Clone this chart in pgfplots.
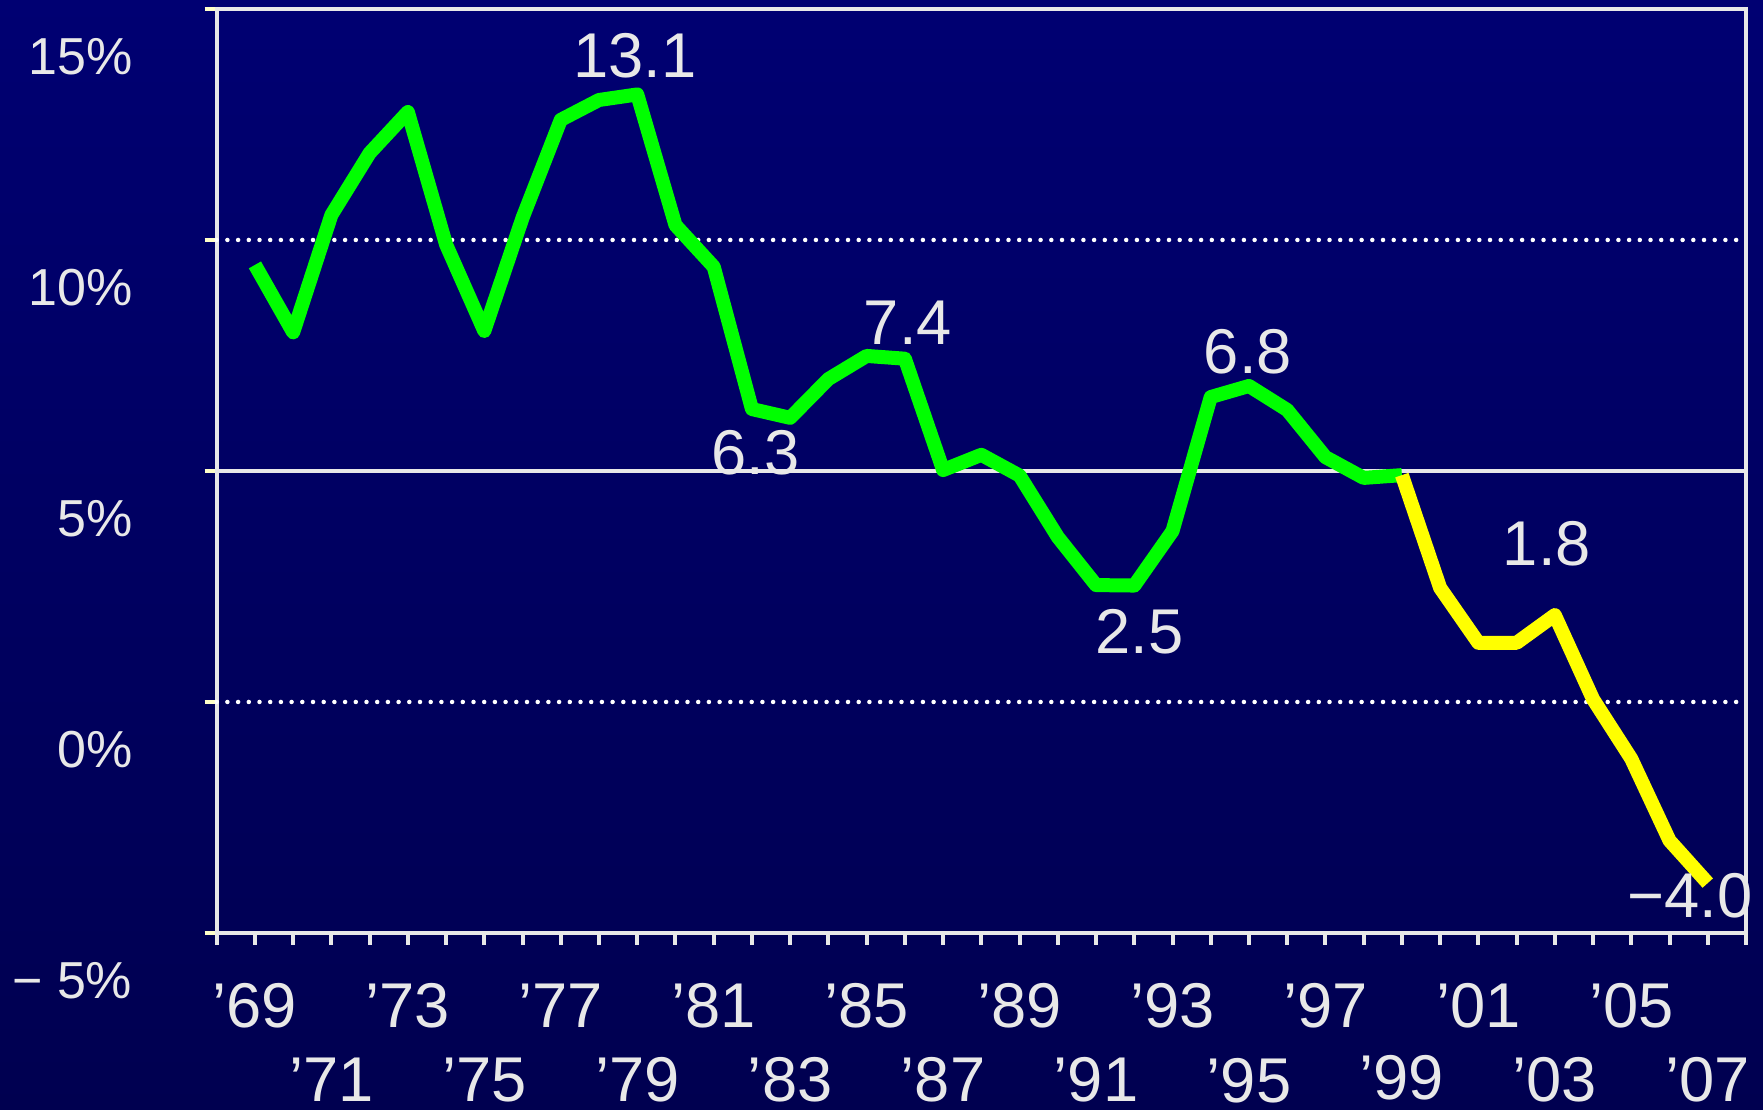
\documentclass[border=0pt]{standalone}
\usepackage{pgfplots}
\pgfplotsset{compat=1.18}
\usepackage{fontspec}
\setmainfont{Liberation Sans}
\definecolor{bgtop}{RGB}{0,0,114}
\definecolor{bgbot}{RGB}{0,0,80}
\definecolor{txt}{RGB}{232,232,232}
\definecolor{axl}{RGB}{232,232,232}
\definecolor{ytk}{RGB}{255,255,200}
\definecolor{lgreen}{RGB}{0,255,0}
\definecolor{lyellow}{RGB}{255,255,0}

\pgfplotstableread{
year val
1969 9.46
1970 8.0
1971 10.54
1972 11.88
1973 12.77
1974 9.9
1975 8.03
1976 10.48
1977 12.6
1978 13.03
1979 13.15
1980 10.32
1981 9.42
1982 6.34
1983 6.15
1984 6.99
1985 7.49
1986 7.43
1987 5.02
1988 5.35
1989 4.9
1990 3.57
1991 2.53
1992 2.52
1993 3.7
1994 6.6
1995 6.84
1996 6.32
1997 5.3
1998 4.85
1999 4.91
}\greendata

\pgfplotstableread{
year val
1999 4.91
2000 2.47
2001 1.28
2002 1.28
2003 1.88
2004 0.06
2005 -1.23
2006 -3.0
2007 -3.92
}\yellowdata

\begin{document}
\begin{tikzpicture}[x=1mm,y=1mm]
\useasboundingbox (0,0) rectangle (176.3,111);
\shade[top color=bgtop, bottom color=bgbot] (0,0) rectangle (176.3,111);
\begin{axis}[
  at={(21.67mm,17.7mm)}, anchor=south west,
  scale only axis, width=152.93mm, height=92.4mm,
  xmin=1968, xmax=2008, ymin=-5, ymax=15,
  clip=false,
  axis line style={draw=axl, line width=0.4mm},
  tick align=outside,
  xtick pos=left, ytick pos=left,
  major tick length=1.2mm, minor tick length=1.2mm,
  xtick={1969,1971,...,2007},
  minor xtick={1968,1970,...,2008},
  xticklabels={’69,\raisebox{-7.4mm}{’71},’73,\raisebox{-7.4mm}{'75},’77,\raisebox{-7.4mm}{’79},’81,\raisebox{-7.4mm}{’83},’85,\raisebox{-7.4mm}{’87},’89,\raisebox{-7.4mm}{’91},’93,\raisebox{-7.5mm}{’95},’97,\raisebox{-7.2mm}{’99},’01,\raisebox{-7.4mm}{’03},’05,\raisebox{-7.4mm}{’07}},
  xticklabel style={anchor=base, inner sep=0pt, yshift=-8.3mm, font=\fontsize{18}{20}\selectfont, text=txt},
  xtick style={draw=axl, line width=0.4mm},
  minor x tick style={draw=axl, line width=0.4mm},
  ytick={-5,0,5,10,15},
  yticklabels={− 5\%,0\%,5\%,10\%,15\%},
  yticklabel style={anchor=east, inner sep=0pt, xshift=-7.17mm, yshift=-4.75mm, font=\fontsize{14.8}{17}\selectfont, text=txt},
  ytick style={draw=ytk, line width=0.4mm},
]
\addplot[draw=white, line width=0.45mm, line cap=round, dash pattern=on 0pt off 1.07mm] coordinates {(1968,10) (2008,10)};
\addplot[draw=white, line width=0.45mm, line cap=round, dash pattern=on 0pt off 1.07mm] coordinates {(1968,0) (2008,0)};
\addplot[draw=axl, line width=0.4mm] coordinates {(1968,5) (2008,5)};
\addplot[draw=lgreen, line width=1.4mm, line join=round] table[x=year,y=val] {\greendata};
\addplot[draw=lyellow, line width=1.4mm, line join=round] table[x=year,y=val] {\yellowdata};
\begin{scope}[every node/.style={inner sep=0pt, anchor=center, text=txt, font=\fontsize{18}{20}\selectfont}]
\node at (axis cs:1978.94,13.98) {13.1};
\node at (axis cs:1986.08,8.2) {7.4};
\node at (axis cs:1982.1,5.39) {6.3};
\node at (axis cs:1992.14,1.52) {2.5};
\node at (axis cs:1994.97,7.58) {6.8};
\node at (axis cs:2002.79,3.42) {1.8};
\node at (axis cs:2006.53,-4.2) {−4.0};
\end{scope}
\end{axis}
\end{tikzpicture}
\end{document}
